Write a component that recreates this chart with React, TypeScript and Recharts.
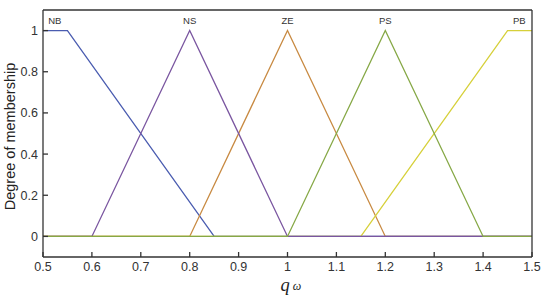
import React from 'react';
import { LineChart, Line, XAxis, YAxis, ReferenceDot } from 'recharts';

const xTicks = [0.5, 0.6, 0.7, 0.8, 0.9, 1, 1.1, 1.2, 1.3, 1.4, 1.5];
const yTicks = [0, 0.2, 0.4, 0.6, 0.8, 1];

const nbX = [0.5, 0.55, 0.85, 1.5];
const nbY = [1, 1, 0, 0];
const nsX = [0.5, 0.6, 0.8, 1.0, 1.5];
const nsY = [0, 0, 1, 0, 0];
const zeX = [0.5, 0.8, 1.0, 1.2, 1.5];
const zeY = [0, 0, 1, 0, 0];
const psX = [0.5, 1.0, 1.2, 1.4, 1.5];
const psY = [0, 0, 1, 0, 0];
const pbX = [0.5, 1.15, 1.45, 1.5];
const pbY = [0, 0, 1, 1];

const labelNames = ['NB', 'NS', 'ZE', 'PS', 'PB'];
const labelX = [0.524, 0.8, 1.0, 1.2, 1.474];
const labelY = 1.05;

const toPts = (xs: number[], ys: number[]) => xs.map((x, i) => ({ x, y: ys[i] }));

const series = [
  { name: 'NB', data: toPts(nbX, nbY), color: '#4a5cb0' },
  { name: 'ZE', data: toPts(zeX, zeY), color: '#c88a42' },
  { name: 'PB', data: toPts(pbX, pbY), color: '#d6d03a' },
  { name: 'NS', data: toPts(nsX, nsY), color: '#7a56a0' },
  { name: 'PS', data: toPts(psX, psY), color: '#86a846' },
];

const axisColor = '#333333';
const fontFamily = 'Arial, "Liberation Sans", sans-serif';

const XLabel = (props: any) => {
  const vb = props.viewBox || {};
  const cx = vb.x + vb.width / 2;
  return (
    <text x={cx - 7} y={291} fill="#222" fontFamily='"Times New Roman", "Liberation Serif", serif' fontStyle="italic">
      <tspan fontSize={18.5}>q</tspan>
      <tspan fontSize={12} dx={3} dy={-1}>ω</tspan>
    </text>
  );
};

const YLabel = (props: any) => {
  const vb = props.viewBox || {};
  const cy = vb.y + vb.height / 2 + 3;
  return (
    <text
      x={10}
      y={cy}
      transform={`rotate(-90, 10, ${cy})`}
      textAnchor="middle"
      dominantBaseline="central"
      fill="#222"
      fontSize={14.5}
      fontFamily={fontFamily}
    >
      Degree of membership
    </text>
  );
};

export default function App() {
  return (
    <div style={{ position: 'absolute', left: 0, top: 0, background: '#fff' }}>
      <LineChart width={550} height={303} margin={{ top: 0, right: 0, bottom: 0, left: 0 }}>
        <XAxis
          xAxisId="b"
          dataKey="x"
          type="number"
          domain={[0.5, 1.5]}
          ticks={xTicks}
          allowDataOverflow
          height={46}
          tickSize={-5}
          tickMargin={10}
          stroke={axisColor}
          strokeWidth={1.3}
          tick={{ fill: '#333', fontSize: 12.5, fontFamily }}
          label={<XLabel />}
        />
        <XAxis
          xAxisId="t"
          dataKey="x"
          type="number"
          orientation="top"
          domain={[0.5, 1.5]}
          ticks={xTicks}
          allowDataOverflow
          height={10}
          tickSize={-5}
          tick={false}
          stroke={axisColor}
          strokeWidth={1.3}
        />
        <YAxis
          yAxisId="l"
          type="number"
          domain={[-0.1, 1.1]}
          ticks={yTicks}
          allowDataOverflow
          width={43}
          tickSize={-5}
          tickMargin={10}
          stroke={axisColor}
          strokeWidth={1.3}
          tick={{ fill: '#333', fontSize: 12.5, fontFamily }}
          tickFormatter={(v: number) => String(v)}
          label={<YLabel />}
        />
        <YAxis
          yAxisId="r"
          type="number"
          orientation="right"
          domain={[-0.1, 1.1]}
          ticks={yTicks}
          allowDataOverflow
          width={18}
          tickSize={-5}
          tick={false}
          stroke={axisColor}
          strokeWidth={1.3}
        />
        {series.map((s) => (
          <Line
            key={s.name}
            xAxisId="b"
            yAxisId="l"
            data={s.data}
            dataKey="y"
            type="linear"
            stroke={s.color}
            strokeWidth={1.3}
            dot={false}
            activeDot={false}
            isAnimationActive={false}
          />
        ))}
        {labelNames.map((n, i) => (
          <ReferenceDot
            key={n}
            xAxisId="b"
            yAxisId="l"
            x={labelX[i]}
            y={labelY}
            r={0}
            fill="none"
            stroke="none"
            label={{ value: n, position: 'center', fill: '#333', fontSize: 9.5, fontFamily }}
          />
        ))}
      </LineChart>
    </div>
  );
}
